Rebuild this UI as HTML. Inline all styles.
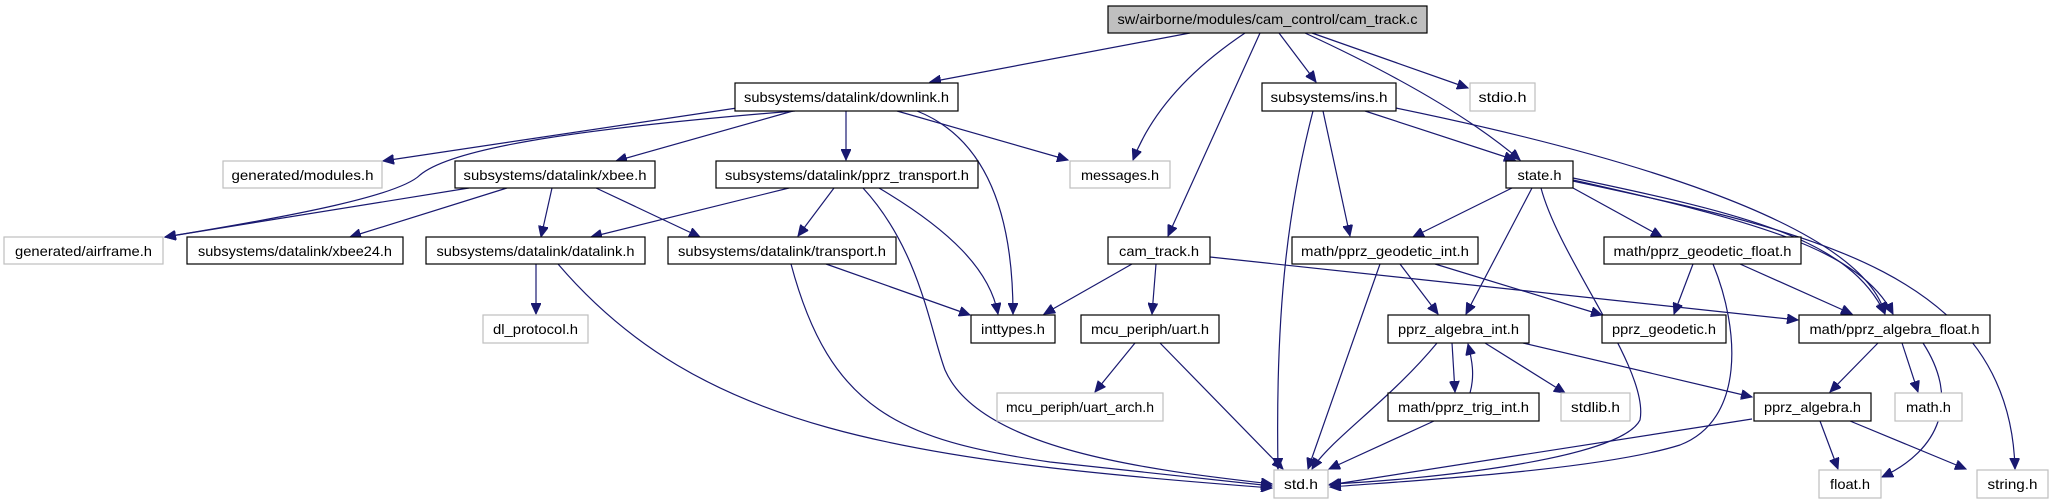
<!DOCTYPE html>
<html><head><meta charset="utf-8"><style>
html,body{margin:0;padding:0;background:#fff;}
svg{display:block;}
text{font-family:"Liberation Sans",sans-serif;font-size:14px;fill:#000;}
.n{fill:#fff;stroke:#000;stroke-width:1.2;}
.g{fill:#fff;stroke:#bfbfbf;stroke-width:1.2;}
.e{fill:none;stroke:#191970;stroke-width:1.2;marker-end:url(#a);}
</style></head><body>
<svg width="2053" height="504" viewBox="0 0 2053 504" xmlns="http://www.w3.org/2000/svg">
<defs><marker id="a" markerUnits="userSpaceOnUse" markerWidth="12" markerHeight="10" refX="11" refY="5" orient="auto"><path d="M0,0 L11,5 L0,10 z" fill="#191970" stroke="#191970"/></marker></defs>
<g>
<path class="e" d="M1190,33 L930,82"/>
<path class="e" d="M1245,33 Q1160,90 1133,160"/>
<path class="e" d="M1260,33 L1168,236"/>
<path class="e" d="M1279,33 L1316,82"/>
<path class="e" d="M1305,33 Q1450,100 1520,160"/>
<path class="e" d="M1312,33 L1468,88"/>
<path class="e" d="M757,105 L383,161"/>
<path class="e" d="M795,111 C560,130 450,150 420,175 C400,195 300,215 165,237"/>
<path class="e" d="M793,111 L616,161"/>
<path class="e" d="M846,111 L846,160"/>
<path class="e" d="M897,111 L1068,160"/>
<path class="e" d="M917,111 C990,140 1013,220 1013,314"/>
<path class="e" d="M469,188 L165,237"/>
<path class="e" d="M507,188 L350,237"/>
<path class="e" d="M552,188 L541,237"/>
<path class="e" d="M596,188 L700,237"/>
<path class="e" d="M789,188 L591,237"/>
<path class="e" d="M834,188 L798,236"/>
<path class="e" d="M863,188 C920,250 930,330 945,370 C980,450 1150,470 1272,484"/>
<path class="e" d="M879,188 C950,230 990,270 998,314"/>
<path class="e" d="M826,264 L970,315"/>
<path class="e" d="M791,264 C830,410 900,440 1050,462 Q1200,478 1272,486"/>
<path class="e" d="M536,264 L536,314"/>
<path class="e" d="M558,264 C700,430 900,460 1272,488"/>
<path class="e" d="M1132,264 L1044,314"/>
<path class="e" d="M1156,264 L1152,314"/>
<path class="e" d="M1210,257 L1798,320"/>
<path class="e" d="M1135,343 L1095,392"/>
<path class="e" d="M1160,343 L1283,469"/>
<path class="e" d="M1313,111 C1290,200 1275,300 1278,469"/>
<path class="e" d="M1323,111 L1350,236"/>
<path class="e" d="M1365,111 L1515,160"/>
<path class="e" d="M1396,108 C1600,150 1860,220 1885,314"/>
<path class="e" d="M1512,188 L1413,237"/>
<path class="e" d="M1532,188 L1466,314"/>
<path class="e" d="M1541,188 C1560,260 1650,370 1640,420 C1620,460 1420,480 1330,484"/>
<path class="e" d="M1713,264 C1740,330 1745,420 1680,445 C1600,470 1420,480 1330,487"/>
<path class="e" d="M1573,188 L1662,237"/>
<path class="e" d="M1573,178 C1750,215 1850,240 1885,314"/>
<path class="e" d="M1573,180 C1760,222 1860,250 1893,314"/>
<path class="e" d="M1573,181 C1800,230 2010,270 2015,469"/>
<path class="e" d="M1380,264 L1308,469"/>
<path class="e" d="M1400,264 L1438,314"/>
<path class="e" d="M1435,264 L1602,315"/>
<path class="e" d="M1693,264 L1674,314"/>
<path class="e" d="M1740,264 L1852,314"/>
<path class="e" d="M1437,343 C1390,400 1330,440 1312,469"/>
<path class="e" d="M1452,343 L1455,392"/>
<path class="e" d="M1470,393 C1475,375 1472,360 1468,344"/>
<path class="e" d="M1485,343 L1565,393"/>
<path class="e" d="M1523,343 L1752,397"/>
<path class="e" d="M1434,421 L1329,469"/>
<path class="e" d="M1752,419 L1329,485"/>
<path class="e" d="M1878,343 L1830,392"/>
<path class="e" d="M1902,343 L1918,392"/>
<path class="e" d="M1923,343 C1960,400 1940,450 1882,477"/>
<path class="e" d="M1820,421 L1838,469"/>
<path class="e" d="M1850,421 L1966,469"/>
</g>
<g>
<rect x="1108" y="6" width="319" height="27" fill="#bfbfbf" stroke="#000" stroke-width="1.2"/>
<text x="1267.5" y="24" text-anchor="middle" textLength="300" lengthAdjust="spacingAndGlyphs">sw/airborne/modules/cam_control/cam_track.c</text>
<rect class="n" x="735" y="83" width="223" height="28"/><text x="846.5" y="102" text-anchor="middle" textLength="205" lengthAdjust="spacingAndGlyphs">subsystems/datalink/downlink.h</text>
<rect class="n" x="1262" y="83" width="134" height="28"/><text x="1329" y="102" text-anchor="middle" textLength="117" lengthAdjust="spacingAndGlyphs">subsystems/ins.h</text>
<rect class="g" x="1470" y="83" width="65" height="28"/><text x="1502.5" y="102" text-anchor="middle" textLength="48" lengthAdjust="spacingAndGlyphs">stdio.h</text>
<rect class="g" x="223" y="161" width="159" height="27"/><text x="302.5" y="180" text-anchor="middle" textLength="142" lengthAdjust="spacingAndGlyphs">generated/modules.h</text>
<rect class="n" x="455" y="161" width="200" height="27"/><text x="555" y="180" text-anchor="middle" textLength="183" lengthAdjust="spacingAndGlyphs">subsystems/datalink/xbee.h</text>
<rect class="n" x="716" y="161" width="262" height="27"/><text x="847" y="180" text-anchor="middle" textLength="244" lengthAdjust="spacingAndGlyphs">subsystems/datalink/pprz_transport.h</text>
<rect class="g" x="1070" y="161" width="100" height="27"/><text x="1120" y="180" text-anchor="middle" textLength="78" lengthAdjust="spacingAndGlyphs">messages.h</text>
<rect class="n" x="1506" y="161" width="67" height="27"/><text x="1539.5" y="180" text-anchor="middle" textLength="44" lengthAdjust="spacingAndGlyphs">state.h</text>
<rect class="g" x="4" y="237" width="159" height="27"/><text x="83.5" y="256" text-anchor="middle" textLength="137" lengthAdjust="spacingAndGlyphs">generated/airframe.h</text>
<rect class="n" x="187" y="237" width="216" height="27"/><text x="295" y="256" text-anchor="middle" textLength="194" lengthAdjust="spacingAndGlyphs">subsystems/datalink/xbee24.h</text>
<rect class="n" x="426" y="237" width="219" height="27"/><text x="535.5" y="256" text-anchor="middle" textLength="198" lengthAdjust="spacingAndGlyphs">subsystems/datalink/datalink.h</text>
<rect class="n" x="668" y="237" width="228" height="27"/><text x="782" y="256" text-anchor="middle" textLength="208" lengthAdjust="spacingAndGlyphs">subsystems/datalink/transport.h</text>
<rect class="n" x="1108" y="237" width="102" height="27"/><text x="1159" y="256" text-anchor="middle" textLength="80" lengthAdjust="spacingAndGlyphs">cam_track.h</text>
<rect class="n" x="1292" y="237" width="186" height="27"/><text x="1385" y="256" text-anchor="middle" textLength="168" lengthAdjust="spacingAndGlyphs">math/pprz_geodetic_int.h</text>
<rect class="n" x="1604" y="237" width="197" height="27"/><text x="1702.5" y="256" text-anchor="middle" textLength="178" lengthAdjust="spacingAndGlyphs">math/pprz_geodetic_float.h</text>
<rect class="g" x="483" y="315" width="105" height="28"/><text x="535.5" y="334" text-anchor="middle" textLength="85" lengthAdjust="spacingAndGlyphs">dl_protocol.h</text>
<rect class="n" x="971" y="315" width="84" height="28"/><text x="1013" y="334" text-anchor="middle" textLength="64" lengthAdjust="spacingAndGlyphs">inttypes.h</text>
<rect class="n" x="1081" y="315" width="138" height="28"/><text x="1150" y="334" text-anchor="middle" textLength="118" lengthAdjust="spacingAndGlyphs">mcu_periph/uart.h</text>
<rect class="n" x="1388" y="315" width="141" height="28"/><text x="1458.5" y="334" text-anchor="middle" textLength="121" lengthAdjust="spacingAndGlyphs">pprz_algebra_int.h</text>
<rect class="n" x="1602" y="315" width="124" height="28"/><text x="1664" y="334" text-anchor="middle" textLength="104" lengthAdjust="spacingAndGlyphs">pprz_geodetic.h</text>
<rect class="n" x="1799" y="315" width="191" height="28"/><text x="1894.5" y="334" text-anchor="middle" textLength="170" lengthAdjust="spacingAndGlyphs">math/pprz_algebra_float.h</text>
<rect class="g" x="997" y="393" width="166" height="28"/><text x="1080" y="412" text-anchor="middle" textLength="148" lengthAdjust="spacingAndGlyphs">mcu_periph/uart_arch.h</text>
<rect class="n" x="1388" y="393" width="151" height="28"/><text x="1463.5" y="412" text-anchor="middle" textLength="131" lengthAdjust="spacingAndGlyphs">math/pprz_trig_int.h</text>
<rect class="g" x="1561" y="393" width="69" height="28"/><text x="1595.5" y="412" text-anchor="middle" textLength="49" lengthAdjust="spacingAndGlyphs">stdlib.h</text>
<rect class="n" x="1754" y="393" width="117" height="28"/><text x="1812.5" y="412" text-anchor="middle" textLength="97" lengthAdjust="spacingAndGlyphs">pprz_algebra.h</text>
<rect class="g" x="1895" y="393" width="67" height="28"/><text x="1928.5" y="412" text-anchor="middle" textLength="45" lengthAdjust="spacingAndGlyphs">math.h</text>
<rect class="g" x="1274" y="470" width="54" height="28"/><text x="1301" y="489" text-anchor="middle" textLength="34" lengthAdjust="spacingAndGlyphs">std.h</text>
<rect class="g" x="1819" y="470" width="62" height="28"/><text x="1850" y="489" text-anchor="middle" textLength="40" lengthAdjust="spacingAndGlyphs">float.h</text>
<rect class="g" x="1977" y="470" width="71" height="28"/><text x="2012.5" y="489" text-anchor="middle" textLength="50" lengthAdjust="spacingAndGlyphs">string.h</text>
</g>
</svg>
</body></html>
